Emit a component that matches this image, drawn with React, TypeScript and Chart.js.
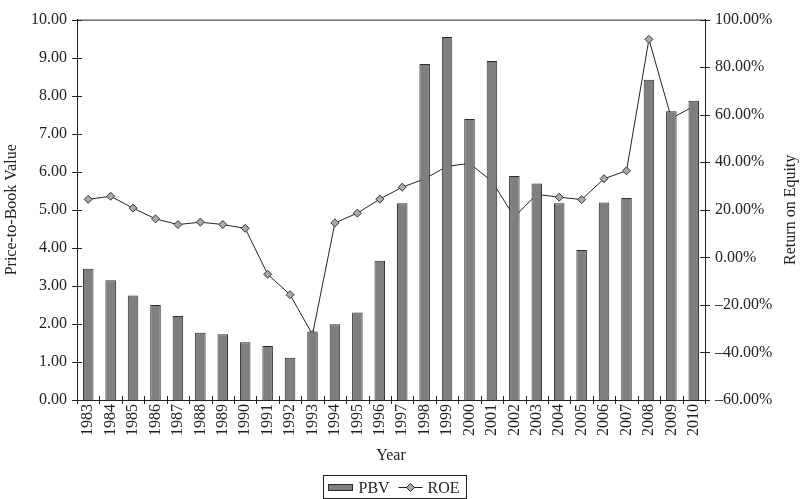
import React, { useEffect, useRef } from 'react';
import { Chart, registerables } from 'chart.js';

Chart.register(...registerables);

const years = [
  '1983', '1984', '1985', '1986', '1987', '1988', '1989', '1990', '1991', '1992',
  '1993', '1994', '1995', '1996', '1997', '1998', '1999', '2000', '2001', '2002',
  '2003', '2004', '2005', '2006', '2007', '2008', '2009', '2010',
];

// price-to-book value (left axis)
const pbv = [
  3.45, 3.15, 2.75, 2.5, 2.21, 1.77, 1.73, 1.52, 1.42, 1.11,
  1.8, 1.99, 2.3, 3.66, 5.17, 8.83, 9.54, 7.39, 8.91, 5.89,
  5.69, 5.17, 3.94, 5.19, 5.31, 8.42, 7.59, 7.87,
];

// return on equity in % (right axis)
const roe = [
  24.4, 25.7, 20.7, 16.2, 13.8, 14.8, 13.8, 12.2, -7.1, -15.7,
  -32.5, 14.5, 18.6, 24.5, 29.5, 33, 38.3, 39.5, 32, 17,
  26.5, 25.3, 24.3, 33.1, 36.4, 91.7, 58.5, 63.5,
];

const FONT = '"Liberation Serif", "DejaVu Serif", serif';
const INK = '#222';
const BAR_FILL = '#7f7f80';
const BAR_EDGE = '#2b2b2b';
const MARKER_FILL = '#a9a9a9';

const fmtMinus = (s: string) => s.replace('-', '\u2013');

// cross ticks, top frame line, right axis title and the boxed legend
const decorations = {
  id: 'decorations',
  afterDraw(chart: any) {
    const { ctx, chartArea: a, scales } = chart;
    const seg = (x1: number, y1: number, x2: number, y2: number) => {
      ctx.beginPath();
      ctx.moveTo(x1, y1);
      ctx.lineTo(x2, y2);
      ctx.stroke();
    };
    ctx.save();
    ctx.strokeStyle = INK;
    ctx.lineWidth = 1;

    seg(a.left, a.top + 0.5, a.right, a.top + 0.5);

    const y = scales.y;
    y.ticks.forEach((_: any, i: number) => {
      const py = Math.round(y.getPixelForTick(i)) + 0.5;
      seg(a.left - 5, py, a.left + 5, py);
    });
    const y1 = scales.y1;
    y1.ticks.forEach((_: any, i: number) => {
      const py = Math.round(y1.getPixelForTick(i)) + 0.5;
      seg(a.right - 5, py, a.right + 5, py);
    });
    const x = scales.x;
    for (let i = 0; i <= years.length; i++) {
      const px = Math.round(x.getPixelForValue(i - 0.5)) + 0.5;
      seg(px, a.bottom - 4, px, a.bottom + 4);
    }

    // right title reads bottom-to-top
    ctx.fillStyle = INK;
    ctx.font = `16px ${FONT}`;
    ctx.textAlign = 'center';
    ctx.textBaseline = 'middle';
    ctx.save();
    ctx.translate(791, (a.top + a.bottom) / 2);
    ctx.rotate(-Math.PI / 2);
    ctx.fillText('Return on Equity', 0, 0);
    ctx.restore();

    // legend
    const lx = 323.5;
    const ly = 475.5;
    ctx.strokeStyle = INK;
    ctx.strokeRect(lx, ly, 143, 23);
    const cy = ly + 12;
    ctx.fillStyle = BAR_FILL;
    ctx.fillRect(lx + 5, cy - 3, 24, 6);
    ctx.strokeStyle = BAR_EDGE;
    ctx.strokeRect(lx + 5, cy - 3, 24, 6);
    ctx.fillStyle = INK;
    ctx.textAlign = 'left';
    ctx.fillText('PBV', lx + 35, cy + 1);
    ctx.strokeStyle = INK;
    seg(lx + 75, cy, lx + 99, cy);
    ctx.beginPath();
    ctx.moveTo(lx + 87 - 4, cy);
    ctx.lineTo(lx + 87, cy - 4);
    ctx.lineTo(lx + 87 + 4, cy);
    ctx.lineTo(lx + 87, cy + 4);
    ctx.closePath();
    ctx.fillStyle = MARKER_FILL;
    ctx.fill();
    ctx.stroke();
    ctx.fillStyle = INK;
    ctx.fillText('ROE', lx + 104, cy + 1);
    ctx.restore();
  },
};

export default function App() {
  const chartRef = useRef<HTMLCanvasElement>(null);
  const chartInstance = useRef<Chart | null>(null);

  useEffect(() => {
    document.body.style.margin = '0';
    if (!chartRef.current) return;
    if (chartInstance.current) {
      chartInstance.current.destroy();
    }
    const ctx = chartRef.current.getContext('2d');
    if (!ctx) return;

    chartInstance.current = new Chart(ctx, {
      type: 'bar',
      data: {
        labels: years,
        datasets: [
          {
            type: 'bar',
            label: 'PBV',
            data: pbv,
            yAxisID: 'y',
            backgroundColor: BAR_FILL,
            borderColor: BAR_EDGE,
            borderWidth: 1,
            categoryPercentage: 1,
            barPercentage: 0.47,
            order: 0,
          },
          {
            type: 'line',
            label: 'ROE',
            data: roe,
            yAxisID: 'y1',
            borderColor: INK,
            borderWidth: 1,
            tension: 0,
            pointStyle: 'rectRot',
            pointRadius: 4,
            pointBackgroundColor: MARKER_FILL,
            pointBorderColor: '#333',
            pointBorderWidth: 1,
            order: 1,
          } as any,
        ],
      },
      options: {
        responsive: true,
        maintainAspectRatio: false,
        animation: false,
        layout: { padding: { top: 9, left: 0, right: 0, bottom: 0 } },
        plugins: {
          legend: { display: false },
          tooltip: { enabled: false },
        },
        scales: {
          x: {
            grid: { display: false, drawTicks: false },
            border: { display: true, color: INK, width: 1 },
            ticks: {
              color: INK,
              font: { family: FONT, size: 16 },
              minRotation: 90,
              maxRotation: 90,
              autoSkip: false,
              padding: 4,
            },
            title: {
              display: true,
              text: 'Year',
              color: INK,
              font: { family: FONT, size: 16 },
              padding: { top: 0, bottom: 34 },
            },
            afterFit: (s: any) => {
              s.height = 99;
            },
          },
          y: {
            position: 'left',
            min: 0,
            max: 10,
            grid: { display: false, drawTicks: false },
            border: { display: true, color: INK, width: 1 },
            ticks: {
              stepSize: 1,
              color: INK,
              font: { family: FONT, size: 16 },
              padding: 10,
              callback: (v: any) => Number(v).toFixed(2),
            },
            title: {
              display: true,
              text: 'Price-to-Book Value',
              color: INK,
              font: { family: FONT, size: 16 },
              padding: { top: 2, bottom: 0 },
            },
            afterFit: (s: any) => {
              s.width = 77;
            },
          },
          y1: {
            position: 'right',
            min: -60,
            max: 100,
            grid: { display: false, drawTicks: false },
            border: { display: true, color: INK, width: 1 },
            ticks: {
              stepSize: 20,
              color: INK,
              font: { family: FONT, size: 16 },
              padding: 10,
              callback: (v: any) => fmtMinus(Number(v).toFixed(2) + '%'),
            },
            afterFit: (s: any) => {
              s.width = 96;
            },
          },
        },
      },
      plugins: [decorations],
    });

    return () => {
      if (chartInstance.current) {
        chartInstance.current.destroy();
        chartInstance.current = null;
      }
    };
  }, []);

  return (
    <div style={{ position: 'relative', width: '801px', height: '499px' }}>
      <canvas ref={chartRef}></canvas>
    </div>
  );
}
